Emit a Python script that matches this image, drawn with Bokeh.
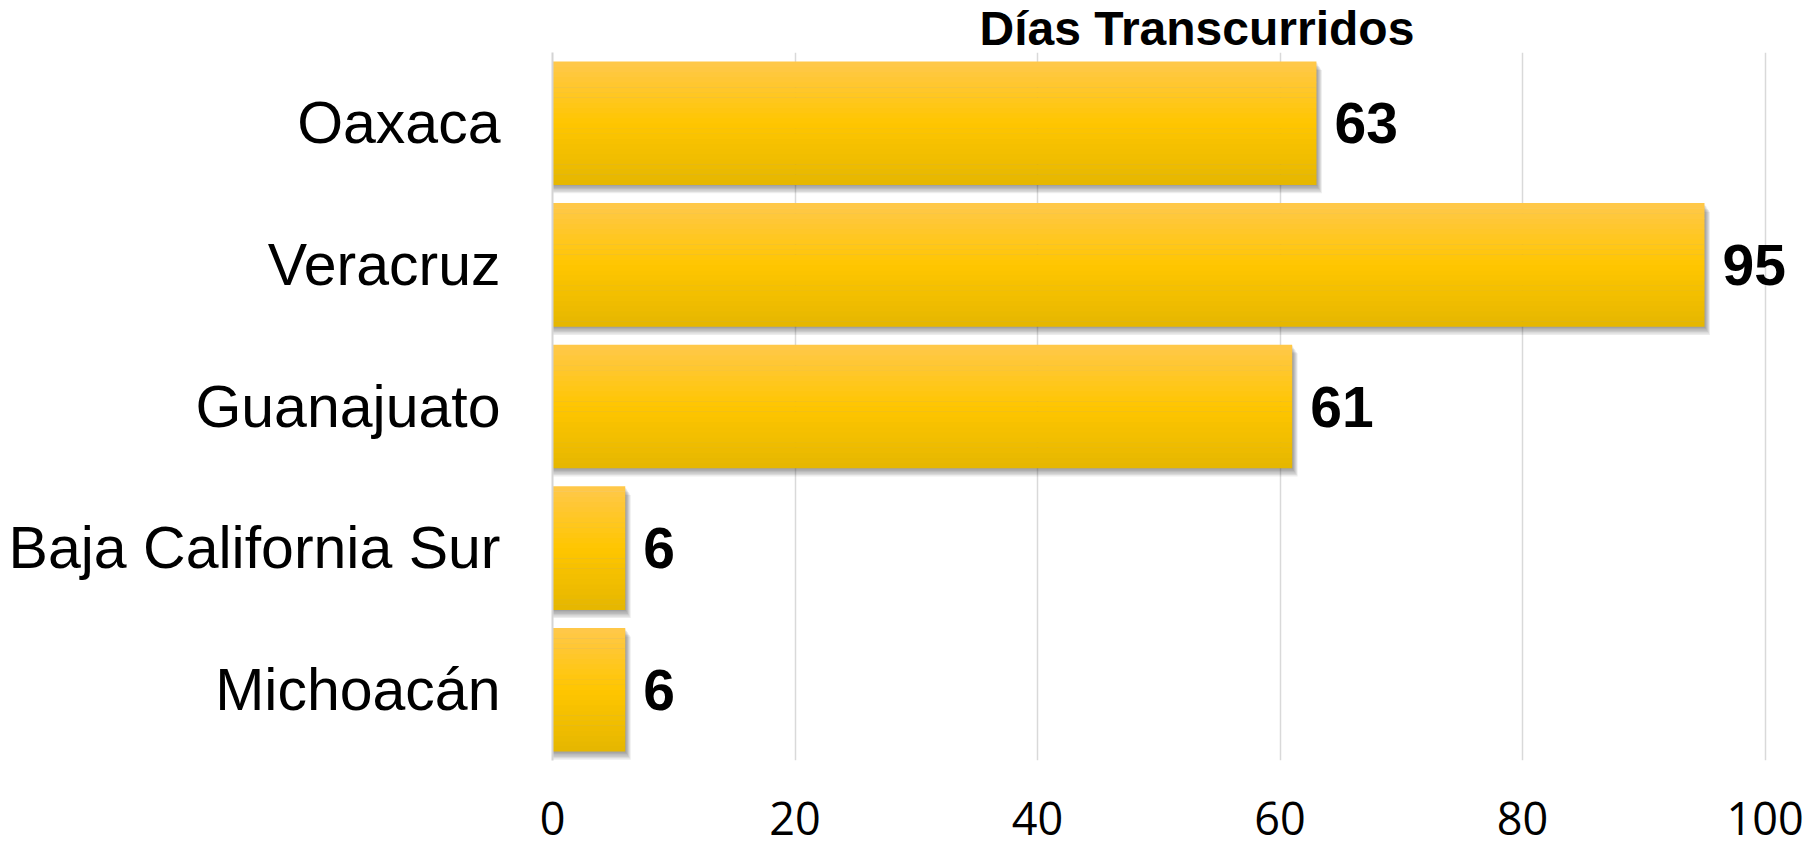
from bokeh.plotting import figure
from bokeh.models import ColumnDataSource, FactorRange, Range1d, FixedTicker, LabelSet, Title
from bokeh.core.properties import value
from bokeh.transform import dodge
from bokeh.embed import file_html
from bokeh.resources import INLINE

# ---- data ----
states = ["Oaxaca", "Veracruz", "Guanajuato", "Baja California Sur", "Michoacán"]
days = [63, 95, 61, 6, 6]
x_ticks = [0, 20, 40, 60, 80, 100]
title_text = "Días Transcurridos"

src = ColumnDataSource(dict(state=states, days=days, label=[str(d) for d in days]))

p = figure(width=1820, height=849, output_backend="svg", toolbar_location=None,
           y_range=FactorRange(factors=states[::-1], range_padding=0),
           x_range=Range1d(0, 103),
           min_border_left=552, min_border_right=19,
           min_border_top=52, min_border_bottom=89)
p.outline_line_color = None
p.background_fill_color = "white"
p.border_fill_color = "white"

# ---- title ----
p.title = Title(text=title_text, align="left", offset=427, vertical_align="bottom",
                standoff=-4, text_font="Liberation Sans", text_font_style="bold",
                text_font_size="48px", text_color="black")

# ---- shadow (soft, below and to the right) ----
bar_h = 0.87
px_y = 1.0 / 141.6   # one pixel in category units
px_x = 1.0 / 12.125  # one pixel in value units
for k in range(1, 7):
    p.hbar(y=dodge("state", -k * 1.4 * px_y, range=p.y_range), left=0.05,
           right=dodge("days", k * 0.9 * px_x), height=bar_h, source=src,
           fill_color="#303030", fill_alpha=0.09, line_color=None)

# ---- gradient bars ----
stops = [(0.0, (230, 183, 0)), (0.5, (255, 198, 0)), (1.0, (255, 200, 72))]


def grad(t):
    for (t0, c0), (t1, c1) in zip(stops[:-1], stops[1:]):
        if t <= t1:
            f = (t - t0) / (t1 - t0)
            return "#%02x%02x%02x" % tuple(int(round(a + (b - a) * f)) for a, b in zip(c0, c1))
    return "#%02x%02x%02x" % stops[-1][1]


N = 24
sh = bar_h / N
for i in range(N):
    off = -bar_h / 2 + (i + 0.5) * sh
    col = grad(i / (N - 1))
    p.hbar(y=dodge("state", off, range=p.y_range), left=0, right="days",
           height=sh * 1.08, source=src, fill_color=col, line_color=None)

# ---- value labels ----
labels = LabelSet(x="days", y="state", text="label", source=src, x_offset=18,
                  text_baseline="middle", text_align="left",
                  text_font=value("Liberation Sans"), text_font_style="bold",
                  text_font_size="57px", text_color="black")
p.add_layout(labels)

# ---- axes ----
p.xaxis.ticker = FixedTicker(ticks=x_ticks)
p.xaxis.axis_line_color = None
p.xaxis.major_tick_line_color = None
p.xaxis.minor_tick_line_color = None
p.xaxis.major_label_text_font = "Open Sans"
p.xaxis.major_label_text_font_size = "45px"
p.xaxis.major_label_text_color = "black"
p.xaxis.major_label_standoff = 35

p.xgrid.grid_line_color = "#d9d9d9"
p.xgrid.grid_line_width = 1.5
p.ygrid.grid_line_color = None

p.yaxis.axis_line_color = "#d4d4d4"
p.yaxis.axis_line_width = 2
p.yaxis.major_tick_line_color = None
p.yaxis.minor_tick_line_color = None
p.yaxis.major_label_text_font = "Liberation Sans"
p.yaxis.major_label_text_font_size = "59px"
p.yaxis.major_label_text_color = "black"
p.yaxis.major_label_standoff = 46

open("out.html", "w").write(file_html(p, INLINE))
